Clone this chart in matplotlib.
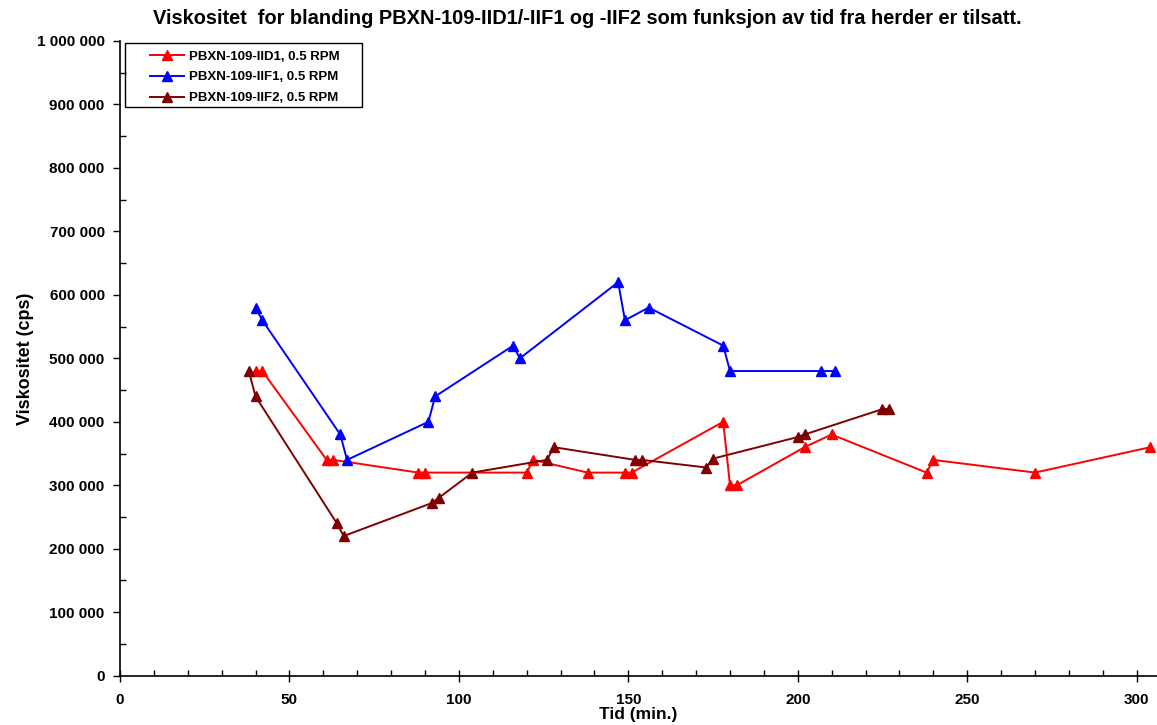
import matplotlib
matplotlib.use("Agg")
import matplotlib.pyplot as plt
from matplotlib.patches import Rectangle
from matplotlib.ticker import MultipleLocator, FuncFormatter

plt.rcParams['font.family'] = ['Liberation Sans', 'DejaVu Sans']
plt.rcParams['font.weight'] = 'bold'

# PBXN-109-IID1
t_iid1 = [40, 42, 61, 63, 88, 90, 120, 122, 138, 149, 151, 178, 180, 182, 202, 210, 238, 240, 270, 304]
v_iid1 = [480000, 480000, 340000, 340000, 320000, 320000, 320000, 340000, 320000, 320000, 320000,
          400000, 300000, 300000, 360000, 380000, 320000, 340000, 320000, 360000]

# PBXN-109-IIF1
t_iif1 = [40, 42, 65, 67, 91, 93, 116, 118, 147, 149, 156, 178, 180, 207, 211]
v_iif1 = [580000, 560000, 380000, 340000, 400000, 440000, 520000, 500000, 620000, 560000, 580000,
          520000, 480000, 480000, 480000]

# PBXN-109-IIF2
t_iif2 = [38, 40, 64, 66, 92, 94, 104, 126, 128, 152, 154, 173, 175, 200, 202, 225, 227]
v_iif2 = [480000, 440000, 240000, 220000, 272000, 280000, 320000, 340000, 360000, 340000, 340000,
          328000, 342000, 376000, 380000, 420000, 420000]

labels = ['PBXN-109-IID1, 0.5 RPM', 'PBXN-109-IIF1, 0.5 RPM', 'PBXN-109-IIF2, 0.5 RPM']
colors = ['#FF0000', '#0000FF', '#800000']

fig = plt.figure(figsize=(11.57, 7.25), dpi=100)
ax = fig.add_axes([0.1037, 0.068, 0.8963, 0.8755])

for t, v, lab, c in zip([t_iid1, t_iif1, t_iif2], [v_iid1, v_iif1, v_iif2], labels, colors):
    ax.plot(t, v, color=c, marker='^', markersize=7, linewidth=1.4, label=lab, clip_on=False)

ax.set_xlim(0, 306)
ax.set_ylim(0, 1000000)
ax.xaxis.set_major_locator(MultipleLocator(50))
ax.xaxis.set_minor_locator(MultipleLocator(10))
ax.yaxis.set_major_locator(MultipleLocator(100000))
ax.yaxis.set_minor_locator(MultipleLocator(50000))
ax.yaxis.set_major_formatter(FuncFormatter(lambda y, p: f"{int(y):,}".replace(',', ' ')))

for s in ['top', 'right']:
    ax.spines[s].set_visible(False)
ax.spines['left'].set_linewidth(1.2)
ax.spines['bottom'].set_linewidth(1.2)

ax.tick_params(axis='x', which='major', direction='inout', length=9, width=1, labelsize=11, pad=8)
ax.tick_params(axis='x', which='minor', direction='in', length=4, width=1)
ax.tick_params(axis='y', which='major', direction='out', length=5, width=1, labelsize=11, pad=6)
ax.tick_params(axis='y', which='minor', direction='in', length=4, width=1)
for lbl in ax.get_xticklabels() + ax.get_yticklabels():
    lbl.set_fontweight('bold')

ax.set_xlabel('Tid (min.)', fontsize=12.5, fontweight='bold', labelpad=0)
ax.set_ylabel('Viskositet (cps)', fontsize=13, fontweight='bold', labelpad=2)
fig.suptitle('Viskositet  for blanding PBXN-109-IID1/-IIF1 og -IIF2 som funksjon av tid fra herder er tilsatt.',
             x=0.508, y=0.988, fontsize=14.4, fontweight='bold')

# legend: text without frame, box drawn separately to get the wide side padding
leg = ax.legend(loc='upper left', bbox_to_anchor=(0.0183, 1.003), fontsize=9.5, frameon=False,
                handlelength=2.6, borderpad=0.35, labelspacing=0.65, handletextpad=0.35)
for txt in leg.get_texts():
    txt.set_fontweight('bold')
fig.patches.append(Rectangle((125 / 1157, 1 - 107 / 725), 237 / 1157, 64 / 725,
                             transform=fig.transFigure, fill=False, edgecolor='black',
                             linewidth=1.0, zorder=5))

fig.savefig('out.png', dpi=100)
